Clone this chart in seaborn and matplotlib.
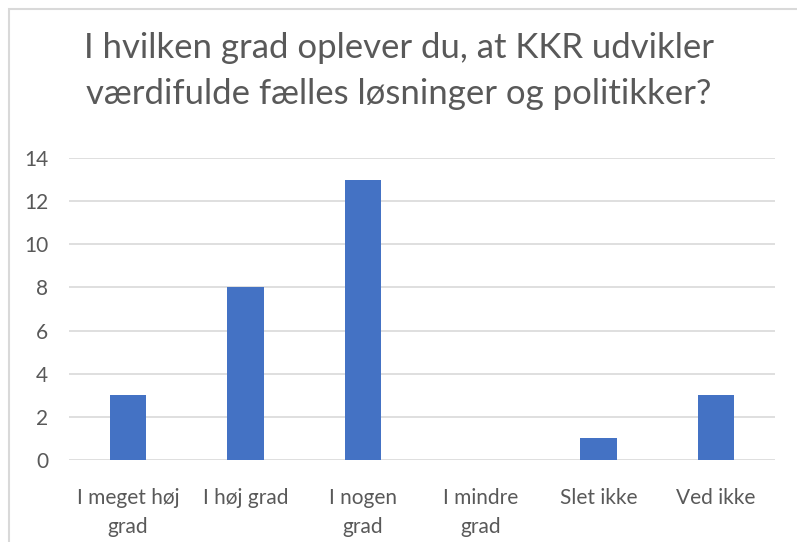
import pandas as pd
import matplotlib.pyplot as plt
import seaborn as sns
from matplotlib.patches import Rectangle

categories = ["I meget høj\ngrad", "I høj grad", "I nogen\ngrad", "I mindre\ngrad", "Slet ikke", "Ved ikke"]
counts = [3, 8, 13, 0, 1, 3]
y_ticks = [0, 2, 4, 6, 8, 10, 12, 14]

title = "I hvilken grad oplever du, at KKR udvikler\nværdifulde fælles løsninger og politikker?"

df = pd.DataFrame({"svar": categories, "antal": counts})

sns.set_style("white")
plt.rcParams['font.family'] = ['Lato', 'DejaVu Sans']
text_color = "#595959"
grid_color = "#d9d9d9"

fig = plt.figure(figsize=(7.97, 5.42), dpi=100)
ax = fig.add_axes([69 / 797, 1 - 460 / 542, (775 - 69) / 797, (460 - 158) / 542])

sns.barplot(data=df, x="svar", y="antal", color="#4472C4", saturation=1,
            width=0.31, linewidth=0, ax=ax, zorder=3)

ax.set_ylim(0, 14)
ax.set_xlim(-0.5, len(categories) - 0.5)
ax.set_yticks(y_ticks)
ax.yaxis.grid(True, color=grid_color, linewidth=1.2, zorder=0)
ax.set_axisbelow(True)
for s in ax.spines.values():
    s.set_visible(False)

ax.tick_params(axis="both", length=0, labelsize=15, colors=text_color)
ax.tick_params(axis="y", pad=15)
ax.tick_params(axis="x", pad=20)
for lbl in ax.get_xticklabels():
    lbl.set_linespacing(1.55)
ax.set_xlabel("")
ax.set_ylabel("")

fig.text(0.5, 1 - 71 / 542, title, ha="center", va="center", fontsize=25,
         color=text_color, linespacing=1.55)

# chart border like the spreadsheet frame
fig.patches.append(Rectangle((9 / 797, -0.1), 1.2, 1 - 9 / 542 + 0.1,
                             transform=fig.transFigure, fill=False,
                             edgecolor=grid_color, linewidth=1.5))

fig.savefig("out.png", dpi=100)
